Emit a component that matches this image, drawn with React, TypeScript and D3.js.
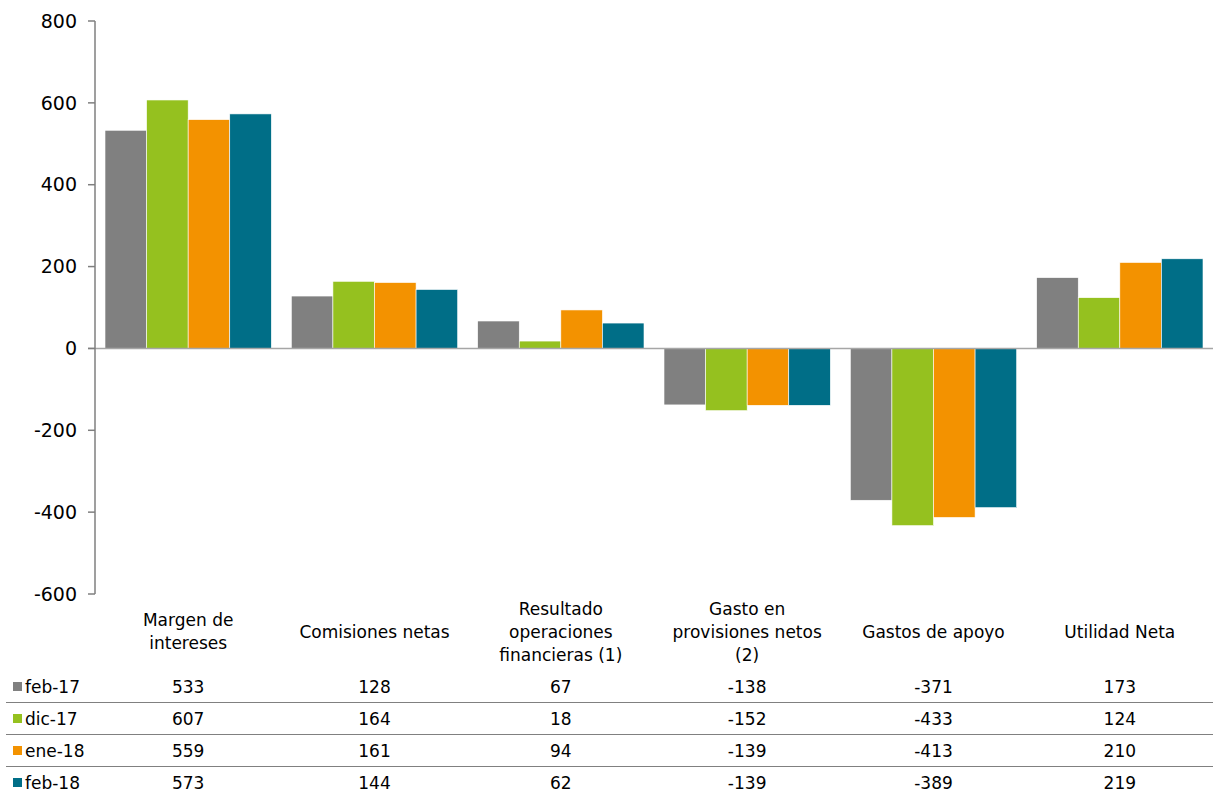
import React from "react";
import * as d3 from "d3";

const categories: string[][] = [
  ["Margen de", "intereses"],
  ["Comisiones netas"],
  ["Resultado", "operaciones", "financieras (1)"],
  ["Gasto en", "provisiones netos", "(2)"],
  ["Gastos de apoyo"],
  ["Utilidad Neta"],
];
const seriesNames = ["feb-17", "dic-17", "ene-18", "feb-18"];
const seriesColors = ["#808080", "#95C11F", "#F39200", "#006E87"];
const feb17 = [533, 128, 67, -138, -371, 173];
const dic17 = [607, 164, 18, -152, -433, 124];
const ene18 = [559, 161, 94, -139, -413, 210];
const feb18 = [573, 144, 62, -139, -389, 219];
const series = [feb17, dic17, ene18, feb18];
const yTicks = [-600, -400, -200, 0, 200, 400, 600, 800];

const W = 1214;
const H = 792;
const FONT = "'DejaVu Sans', Verdana, sans-serif";

export default function App() {
  const left = 95;
  const right = 1213;
  const y = d3.scaleLinear().domain([-600, 800]).range([594, 21]);
  const x0 = d3
    .scaleBand<number>()
    .domain(d3.range(categories.length))
    .range([left, right])
    .paddingInner(0)
    .paddingOuter(0);
  const x1 = d3
    .scaleBand<number>()
    .domain(d3.range(series.length))
    .range([10, x0.bandwidth() - 10])
    .padding(0);

  const rowY = [687, 719, 751, 783];
  const sepY = [702.5, 734.5, 766.5];

  return (
    <svg
      width={W}
      height={H}
      style={{ position: "absolute", left: 0, top: 0, background: "#fff" }}
      fontFamily={FONT}
    >
      {/* bars */}
      {series.map((vals, si) =>
        vals.map((v, ci) => {
          const bx = (x0(ci) as number) + (x1(si) as number);
          const y0 = y(0);
          const yv = y(v);
          return (
            <rect
              key={`b-${si}-${ci}`}
              x={bx}
              y={Math.min(y0, yv)}
              width={x1.bandwidth()}
              height={Math.abs(yv - y0)}
              fill={seriesColors[si]}
              stroke="#ffffff"
              strokeWidth={0.6}
            />
          );
        })
      )}
      {/* zero line */}
      <line x1={left - 7} x2={right} y1={y(0)} y2={y(0)} stroke="#a6a6a6" strokeWidth={1.5} />
      {/* y axis */}
      <line x1={left} x2={left} y1={y(800)} y2={y(-600)} stroke="#7f7f7f" strokeWidth={1.5} />
      {yTicks.map((t) => (
        <g key={`t-${t}`}>
          <line x1={left - 7} x2={left} y1={y(t)} y2={y(t)} stroke="#7f7f7f" strokeWidth={1.5} />
          <text
            x={77}
            y={y(t)}
            dy="0.35em"
            textAnchor="end"
            fontSize={19}
            fill="#000"
          >
            {t}
          </text>
        </g>
      ))}
      {/* category labels */}
      {categories.map((lines, ci) => {
        const cx = (x0(ci) as number) + x0.bandwidth() / 2;
        const lh = 23;
        const startY = 632 - ((lines.length - 1) * lh) / 2;
        return (
          <text key={`c-${ci}`} textAnchor="middle" fontSize={17} fill="#000">
            {lines.map((ln, li) => (
              <tspan key={li} x={cx} y={startY + li * lh} dy="0.35em">
                {ln}
              </tspan>
            ))}
          </text>
        );
      })}
      {/* table separators */}
      {sepY.map((sy, i) => (
        <line key={`s-${i}`} x1={6} x2={right} y1={sy} y2={sy} stroke="#808080" strokeWidth={1.2} />
      ))}
      {/* table rows */}
      {series.map((vals, si) => (
        <g key={`r-${si}`}>
          <rect x={13} y={rowY[si] - 5} width={9} height={9} fill={seriesColors[si]} />
          <text x={25} y={rowY[si]} dy="0.35em" fontSize={17} fill="#000">
            {seriesNames[si]}
          </text>
          {vals.map((v, ci) => (
            <text
              key={`v-${ci}`}
              x={(x0(ci) as number) + x0.bandwidth() / 2}
              y={rowY[si]}
              dy="0.35em"
              textAnchor="middle"
              fontSize={17}
              fill="#000"
            >
              {v}
            </text>
          ))}
        </g>
      ))}
    </svg>
  );
}
